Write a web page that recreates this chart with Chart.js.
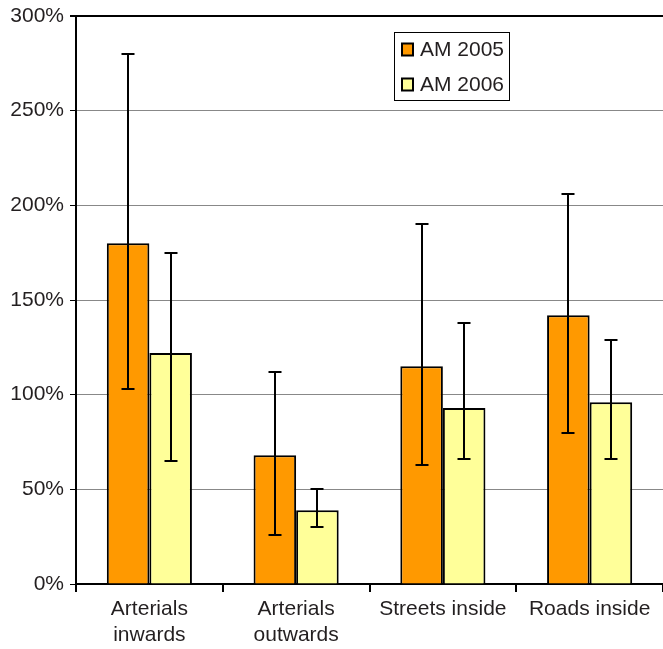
<!DOCTYPE html>
<html>
<head>
<meta charset="utf-8">
<script src="https://cdn.jsdelivr.net/npm/chart.js@4.4.0/dist/chart.umd.min.js"></script>
<style>
  html, body { margin: 0; padding: 0; background: #fff; }
  #wrap { width: 663px; height: 649px; }
</style>
</head>
<body>
<div id="wrap"><canvas id="chart" width="663" height="649"></canvas></div>
<script>
const categories = [['Arterials', 'inwards'], ['Arterials', 'outwards'], 'Streets inside', 'Roads inside'];
const seriesLabels = ['AM 2005', 'AM 2006'];
const am2005 = [180, 68, 115, 142];
const am2005Low = [103, 26, 63, 80];
const am2005High = [280, 112, 190, 206];
const am2006 = [122, 39, 93, 96];
const am2006Low = [65, 30, 66, 66];
const am2006High = [175, 50, 138, 129];
const yTicks = [0, 50, 100, 150, 200, 250, 300];

const errorRanges = [
  { low: am2005Low, high: am2005High },
  { low: am2006Low, high: am2006High }
];

const fontFamily = '"Liberation Sans", Arial, Helvetica, sans-serif';
const textColor = '#231f20';

const errorBars = {
  id: 'errorBars',
  afterDatasetsDraw(chart) {
    const ctx = chart.ctx;
    const y = chart.scales.y;
    ctx.save();
    ctx.strokeStyle = '#000';
    ctx.lineWidth = 2;
    chart.data.datasets.forEach((ds, di) => {
      const meta = chart.getDatasetMeta(di);
      meta.data.forEach((bar, i) => {
        const x = Math.round(bar.x);
        const yl = Math.round(y.getPixelForValue(errorRanges[di].low[i]));
        const yh = Math.round(y.getPixelForValue(errorRanges[di].high[i]));
        ctx.beginPath();
        ctx.moveTo(x, yl);
        ctx.lineTo(x, yh);
        ctx.moveTo(x - 6.5, yl);
        ctx.lineTo(x + 6.5, yl);
        ctx.moveTo(x - 6.5, yh);
        ctx.lineTo(x + 6.5, yh);
        ctx.stroke();
      });
    });
    ctx.restore();
  }
};

const boxLegend = {
  id: 'boxLegend',
  afterDraw(chart) {
    const ctx = chart.ctx;
    ctx.save();
    ctx.fillStyle = '#fff';
    ctx.strokeStyle = '#000';
    ctx.lineWidth = 1;
    ctx.fillRect(394, 32, 115, 68);
    ctx.strokeRect(394.5, 32.5, 115, 68);
    ctx.font = '21px ' + fontFamily;
    ctx.textBaseline = 'middle';
    chart.data.datasets.forEach((ds, i) => {
      const cy = 49.5 + i * 35;
      ctx.fillStyle = ds.backgroundColor;
      ctx.fillRect(402, cy - 6, 11, 12);
      ctx.lineWidth = 2;
      ctx.strokeRect(402, cy - 6, 11, 12);
      ctx.fillStyle = textColor;
      ctx.fillText(ds.label, 420, cy + 1);
    });
    ctx.restore();
  }
};

new Chart(document.getElementById('chart'), {
  type: 'bar',
  data: {
    labels: categories,
    datasets: [
      { label: seriesLabels[0], data: am2005, backgroundColor: '#ff9900', borderColor: '#000', borderWidth: 2 },
      { label: seriesLabels[1], data: am2006, backgroundColor: '#ffff99', borderColor: '#000', borderWidth: 2 }
    ]
  },
  options: {
    responsive: false,
    animation: false,
    layout: { padding: { top: 16, right: 0, left: 0, bottom: 0 } },
    datasets: { bar: { categoryPercentage: 0.58, barPercentage: 1 } },
    plugins: { legend: { display: false }, tooltip: { enabled: false } },
    scales: {
      x: {
        offset: true,
        grid: { offset: true, drawOnChartArea: false, color: '#000', tickLength: 8, lineWidth: 2 },
        border: { color: '#000', width: 2 },
        ticks: { color: textColor, font: { family: fontFamily, size: 21, lineHeight: 1.2 }, padding: 5, maxRotation: 0 },
        afterFit(scale) { scale.height = 65; }
      },
      y: {
        min: 0,
        max: 300,
        afterBuildTicks(scale) { scale.ticks = yTicks.map(v => ({ value: v })); },
        grid: {
          color: ctx => ctx.tick && ctx.tick.value === 300 ? '#000' : '#888',
          tickColor: '#000',
          tickLength: 6,
          lineWidth: ctx => ctx.tick && ctx.tick.value === 300 ? 2 : 1
        },
        border: { color: '#000', width: 2 },
        ticks: {
          color: textColor,
          font: { family: fontFamily, size: 21 },
          padding: 6,
          callback: v => v + '%'
        },
        afterFit(scale) {
          scale.width = 76;
          scale.paddingTop = 0;
          scale.paddingBottom = 0;
        }
      }
    }
  },
  plugins: [errorBars, boxLegend]
});
</script>
</body>
</html>
